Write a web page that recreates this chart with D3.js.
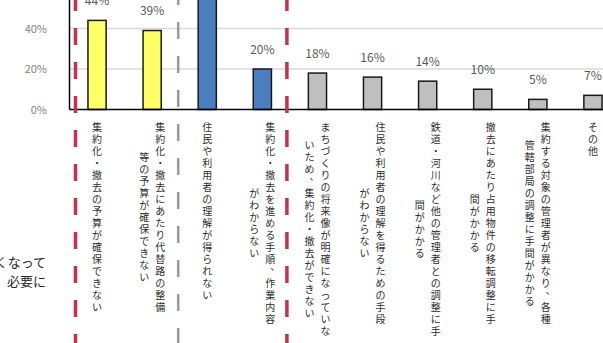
<!DOCTYPE html>
<html>
<head>
<meta charset="utf-8">
<script src="https://cdn.jsdelivr.net/npm/d3@7"></script>
<style>
    body { margin: 0; background: #fff; }
    svg { display: block; font-family: "Noto Sans CJK JP", "Noto Sans", sans-serif; }
</style>
</head>
<body>
<svg id="chart"></svg>
<script>
// categories, each split into the columns of its vertical label (right column first)
const categories = ['予算確保', '撤去費用', '住民理解', '手順不明', 'まちづくり', '理解手段', '他管理者', '占用物件', '管理者相違', 'その他'];
const labelLines = [
    ['集約化・撤去の予算が確保できない'],
    ['集約化・撤去にあたり代替路の整備', '等の予算が確保できない'],
    ['住民や利用者の理解が得られない'],
    ['集約化・撤去を進める手順、作業内容', 'がわからない'],
    ['まちづくりの将来像が明確になっていな', 'いため、集約化・撤去ができない'],
    ['住民や利用者の理解を得るための手段', 'がわからない'],
    ['鉄道・河川など他の管理者との調整に手', '間がかかる'],
    ['撤去にあたり占用物件の移転調整に手', '間がかかる'],
    ['集約する対象の管理者が異なり、各種', '管轄部局の調整に手間がかかる'],
    ['その他']
];
const values = [44, 39, 64, 20, 18, 16, 14, 10, 5, 7];
const groups = ['budget', 'budget', 'consensus', 'consensus', 'other', 'other', 'other', 'other', 'other', 'other'];
const yTicks = [0, 20, 40];
const dividers = [
    { before: 0, kind: 'major' },
    { before: 2, kind: 'minor' },
    { before: 4, kind: 'major' }
];
const sideNote = ['くなって', '必要に'];

class ReasonChart {
    constructor(_config) {
        this.config = {
            parentElement: _config.parentElement,
            containerWidth: _config.containerWidth || 603,
            containerHeight: _config.containerHeight || 343
        };
        this.initVis();
    }

    initVis() {
        let vis = this;

        vis.axisX = 69.5;
        vis.baseY = 109.5;

        vis.xScale = d3.scaleBand()
            .domain(categories)
            .range([vis.axisX, 620.5])
            .paddingInner(0.67)
            .paddingOuter(0.335);

        vis.yScale = d3.scaleLinear()
            .domain([0, 60])
            .range([vis.baseY, -12]);

        vis.color = d3.scaleOrdinal()
            .domain(['budget', 'consensus', 'other'])
            .range(['#ffff66', '#4a7ebf', '#bfbfbf']);

        vis.svg = d3.select(vis.config.parentElement)
            .attr('width', vis.config.containerWidth)
            .attr('height', vis.config.containerHeight);

        vis.renderVis();
    }

    renderVis() {
        let vis = this;
        const W = vis.config.containerWidth;
        const H = vis.config.containerHeight;

        // gridlines (60% one sits just above the crop)
        vis.svg.append('g')
            .selectAll('line')
            .data([20, 40, 60])
            .join('line')
            .attr('x1', vis.axisX)
            .attr('x2', W)
            .attr('y1', d => vis.yScale(d))
            .attr('y2', d => vis.yScale(d))
            .attr('stroke', '#d9d9d9')
            .attr('stroke-width', 1.5);

        // y tick labels
        vis.svg.append('g')
            .selectAll('text')
            .data(yTicks)
            .join('text')
            .attr('x', 47)
            .attr('y', d => vis.yScale(d) + 4)
            .attr('text-anchor', 'end')
            .attr('font-size', 11)
            .attr('fill', '#7f7f7f')
            .text(d => d + '%');

        // bars
        vis.svg.append('g')
            .selectAll('rect')
            .data(values)
            .join('rect')
            .attr('x', (d, i) => vis.xScale(categories[i]))
            .attr('y', d => vis.yScale(d))
            .attr('width', vis.xScale.bandwidth())
            .attr('height', d => vis.baseY - vis.yScale(d))
            .attr('fill', (d, i) => vis.color(groups[i]))
            .attr('stroke', '#1a1a1a')
            .attr('stroke-width', 1.5);

        // value labels
        vis.svg.append('g')
            .selectAll('text')
            .data(values)
            .join('text')
            .attr('x', (d, i) => vis.xScale(categories[i]) + vis.xScale.bandwidth() / 2)
            .attr('y', d => vis.yScale(d) - 15.5)
            .attr('text-anchor', 'middle')
            .attr('font-size', 12)
            .attr('fill', '#595959')
            .text(d => d + '%');

        // axes
        vis.svg.append('line')
            .attr('x1', vis.axisX).attr('x2', vis.axisX)
            .attr('y1', 0).attr('y2', vis.baseY)
            .attr('stroke', '#000').attr('stroke-width', 1.5);
        vis.svg.append('line')
            .attr('x1', vis.axisX).attr('x2', W)
            .attr('y1', vis.baseY).attr('y2', vis.baseY)
            .attr('stroke', '#000').attr('stroke-width', 1.5);

        // vertical category labels, one character at a time
        const pitch = 12, colGap = 16, top = 120;
        const labelG = vis.svg.append('g')
            .attr('font-size', 10)
            .attr('fill', '#2e2e2e');

        labelLines.forEach((lines, i) => {
            const cx = vis.xScale(categories[i]) + vis.xScale.bandwidth() / 2;
            const maxN = d3.max(lines, l => Array.from(l).length);
            lines.forEach((line, j) => {
                const chars = Array.from(line);
                const x = cx + (lines.length - 1) / 2 * colGap - j * colGap;
                const y0 = top + (maxN - chars.length) * pitch / 2;
                chars.forEach((ch, k) => {
                    const comma = ch === '、';
                    labelG.append('text')
                        .attr('x', x + (comma ? 5 : 0))
                        .attr('y', y0 + k * pitch + pitch / 2 + (comma ? -5 : 0))
                        .attr('text-anchor', 'middle')
                        .attr('dominant-baseline', 'central')
                        .text(ch);
                });
            });
        });

        // group dividers
        const gap = vis.xScale.step() - vis.xScale.bandwidth();
        const nudge = { 0: 6, 2: -1.5, 4: -3 };
        vis.svg.append('g')
            .selectAll('line')
            .data(dividers)
            .join('line')
            .attr('x1', d => vis.xScale(categories[d.before]) - gap / 2 + nudge[d.before])
            .attr('x2', d => vis.xScale(categories[d.before]) - gap / 2 + nudge[d.before])
            .attr('y1', d => d.kind === 'major' ? -6 : -12)
            .attr('y2', H)
            .attr('stroke', d => d.kind === 'major' ? '#c8304c' : '#9a9a9a')
            .attr('stroke-width', d => d.kind === 'major' ? 3.5 : 2.5)
            .attr('stroke-dasharray', '17,17');

        // note cut off at the left edge
        vis.svg.append('g')
            .selectAll('text')
            .data(sideNote)
            .join('text')
            .attr('x', 46)
            .attr('y', (d, i) => 267 + i * 19)
            .attr('text-anchor', 'end')
            .attr('font-size', 13)
            .attr('fill', '#262626')
            .text(d => d);
    }
}

new ReasonChart({ parentElement: '#chart' });
</script>
</body>
</html>
